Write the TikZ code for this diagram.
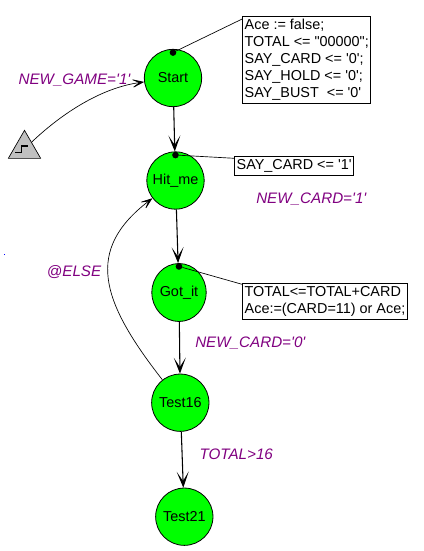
\documentclass[tikz,border=0pt]{standalone}
\usepackage{fontspec}
\newfontfamily\diagfont{Liberation Sans}
\usepackage{xcolor}
\definecolor{stgreen}{HTML}{00FF00}
\definecolor{condpurple}{HTML}{800080}
\definecolor{resetgray}{HTML}{C0C0C0}
\newcommand{\diagsize}{\fontsize{10.8}{12.75}\selectfont}
\newcommand{\condsize}{\fontsize{11.4}{13}\selectfont}
\usetikzlibrary{arrows.meta,positioning,shapes.geometric}
\tikzset{
  st/.style={circle, draw=black, fill=stgreen, line width=0.6pt, minimum size=43pt,
             inner sep=0pt, font=\diagfont\diagsize},
  act/.style={draw=black, fill=white, line width=0.6pt, align=left, anchor=north west,
              inner xsep=1.5pt, inner ysep=2pt, font=\diagfont\diagsize},
  cond/.style={text=condpurple, inner sep=0pt, anchor=west, font=\diagfont\condsize\itshape},
  sdot/.style={circle, fill=black, inner sep=0pt, minimum size=5pt},
  rst/.style={regular polygon, regular polygon sides=3, draw=black, fill=resetgray,
              line width=0.5pt, minimum size=28pt, inner sep=0pt},
  tr/.style={-{Stealth[length=12pt,width=9pt,inset=7pt]}, line width=0.8pt},
  trc/.style={-{Stealth[length=11pt,width=8pt,inset=7pt]}, line width=0.5pt},
  lnk/.style={line width=0.5pt},
}
\begin{document}
\begin{tikzpicture}[x=0.75pt, y=-0.75pt]
  \useasboundingbox (0,0) rectangle (424,551);
  \node[st] (start) at (173,78) {Start};
  \node[st] (hit) at (175.5,180.5) {Hit\_me};
  \node[st, ellipse, minimum width=37.5pt, minimum height=43.5pt] (got) at (179,292.5) {Got\_it};
  \node[st] (t16) at (180.3,402.7) {Test16};
  \node[st] (t21) at (184.3,516.7) {Test21};
  \node[act] (sa) at (242.3,16) {Ace := false;\\TOTAL <= "00000";\\SAY\_CARD <= '0';\\SAY\_HOLD <= '0';\\SAY\_BUST\ \ <= '0'};
  \node[act] (ha) at (234.3,156.3) {SAY\_CARD <= '1'};
  \node[act] (ga) at (242.3,283.3) {TOTAL<=TOTAL+CARD\\Ace:=(CARD=11) or Ace;};
  \node[sdot] (sd) at ([yshift=-2.7pt]start.north) {};
  \node[sdot] (hd) at ([yshift=-2.7pt]hit.north) {};
  \node[sdot] (gd) at ([yshift=-2.5pt]got.north) {};
  \draw[lnk] (sd) -- ([yshift=-2.2pt]sa.north west);
  \draw[lnk] (hd) -- ([yshift=-1.5pt]ha.north west);
  \draw[lnk] (gd) -- ([yshift=-0.8pt]ga.north west);
  \node[rst] (reset) at (24.5,149) {};
  \draw[line width=0.9pt] ([shift={(-9.5,3.7)}]reset.center) -- ++(6.7,0) -- ++(0,-6.7) -- ++(6.6,0);
  \node[cond] (ng) at (18.3,80) {NEW\_GAME='1'};
  \node[cond] (nc1) at (256,199.3) {NEW\_CARD='1'};
  \node[cond] (els) at (46.7,272) {@ELSE};
  \node[cond] (nc0) at (195,342.7) {NEW\_CARD='0'};
  \node[cond] (tot) at (199.3,454.3) {TOTAL>16};
  \draw[trc] (reset) .. controls (60,115) and (100,88) .. (start);
  \draw[tr] (start) -- (hit);
  \draw[tr] (hit) -- (got);
  \draw[tr] (got) -- (t16);
  \draw[tr] (t16) -- (t21);
  \draw[trc] (t16) .. controls (100,300) and (85,250) .. (hit);
  \fill[blue] (3.8,253.8) rectangle ++(1.2,1.2);
\end{tikzpicture}
\end{document}
